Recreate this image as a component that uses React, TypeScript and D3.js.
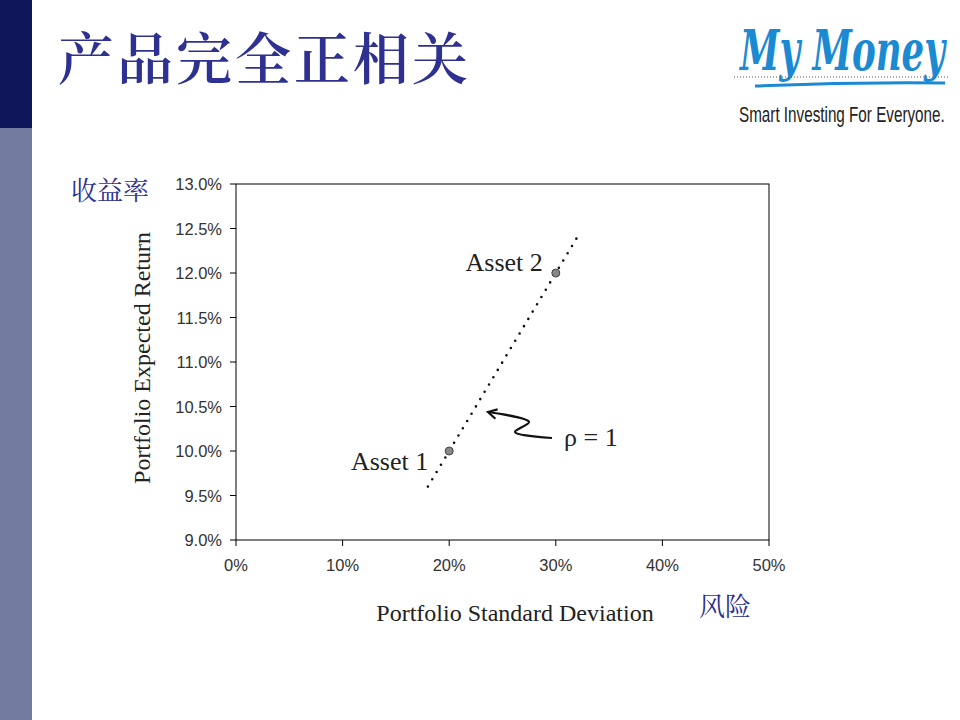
import React, { useLayoutEffect, useRef, useState } from "react";
import * as d3 from "d3";

const xTicks = [0, 10, 20, 30, 40, 50];
const yTicks = [9.0, 9.5, 10.0, 10.5, 11.0, 11.5, 12.0, 12.5, 13.0];
const lineSigma = [18, 32.2];
const lineReturn = [9.6, 12.44];
const assetNames = ["Asset 1", "Asset 2"];
const assetSigma = [20, 30];
const assetReturn = [10, 12];
const arrowSigma = [29.64, 26.17, 27.49, 23.64];
const arrowReturn = [10.146, 10.213, 10.326, 10.438];

function FitText(props: { x: number; y: number; width: number; children: string; [k: string]: any }) {
  const { x, y, width, children, ...rest } = props;
  const ref = useRef<SVGTextElement>(null);
  const [sx, setSx] = useState(1);
  useLayoutEffect(() => {
    if (ref.current) {
      const w = ref.current.getComputedTextLength();
      if (w > 0) setSx(width / w);
    }
  }, [width, children]);
  return (
    <g transform={`translate(${x},${y}) scale(${sx},1)`}>
      <text ref={ref} x={0} y={0} {...rest}>{children}</text>
    </g>
  );
}

export default function App() {
  const W = 960, H = 720;
  const x = d3.scaleLinear().domain([0, 50]).range([236, 769]);
  const y = d3.scaleLinear().domain([9, 13]).range([540, 184]);
  const lineGen = d3.line<[number, number]>().x(d => x(d[0])).y(d => y(d[1]));
  const arrowPts: [number, number][] = arrowSigma.map((s, i) => [s, arrowReturn[i]]);
  const arrowPath = d3.line<[number, number]>()
    .x(d => x(d[0])).y(d => y(d[1]))
    .curve(d3.curveCatmullRom.alpha(0.5))(arrowPts) as string;
  const tip = arrowPts[arrowPts.length - 1];
  const prev = arrowPts[arrowPts.length - 2];
  const ang = Math.atan2(y(tip[1]) - y(prev[1]), x(tip[0]) - x(prev[0]));
  const tx = x(tip[0]), ty = y(tip[1]);
  const ah = 10;
  const a1 = [tx - ah * Math.cos(ang - 0.5), ty - ah * Math.sin(ang - 0.5)];
  const a2 = [tx - ah * Math.cos(ang + 0.5), ty - ah * Math.sin(ang + 0.5)];
  const tickFont = "Liberation Sans, Arial, sans-serif";
  const serif = "Liberation Serif, Times New Roman, serif";
  const blue = "#2e3192";
  const lp: [number, number][] = lineSigma.map((s, i) => [s, lineReturn[i]]);
  return (
    <svg width={W} height={H} style={{ position: "absolute", left: 0, top: 0, background: "#fff" }}>
      <rect x={0} y={0} width={W} height={H} fill="#fff" />
      <rect x={0} y={0} width={32} height={128} fill="#10165a" />
      <rect x={0} y={128} width={32} height={H - 128} fill="#737ba0" />
      <text x={58} y={79} fontSize={56} fontWeight={600} fill={blue} fontFamily="Noto Serif CJK SC, Noto Sans CJK SC, serif" letterSpacing={3}>产品完全正相关</text>
      {/* logo */}
      <FitText x={740} y={70} width={205} fontSize={56} fontWeight="bold" fill="#1b8ad3" fontStyle="italic" fontFamily="DejaVu Serif, serif">My Money</FitText>
      <line x1={734} x2={950} y1={77} y2={77} stroke="#555" strokeDasharray="1,2" strokeWidth={1} />
      <path d="M755,86 Q850,82 945,83" stroke="#1b8ad3" strokeWidth={3} fill="none" />
      <FitText x={739} y={122} width={206} fontSize={22} fill="#222" fontFamily="Liberation Sans Narrow, Liberation Sans, sans-serif">Smart Investing For Everyone.</FitText>

      {/* plot frame */}
      <rect x={x(0)} y={y(13)} width={x(50) - x(0)} height={y(9) - y(13)} fill="none" stroke="#000" strokeWidth={1} />
      {yTicks.map(t => (
        <g key={"y" + t}>
          <line x1={x(0) - 6} x2={x(0)} y1={y(t)} y2={y(t)} stroke="#000" />
          <text x={x(0) - 14} y={y(t) + 6} textAnchor="end" fontSize={16.5} fill="#333" fontFamily={tickFont}>{t.toFixed(1)}%</text>
        </g>
      ))}
      {xTicks.map(t => (
        <g key={"x" + t}>
          <line x1={x(t)} x2={x(t)} y1={y(9)} y2={y(9) + 6} stroke="#000" />
          <text x={x(t)} y={y(9) + 31} textAnchor="middle" fontSize={16.5} fill="#333" fontFamily={tickFont}>{t}%</text>
        </g>
      ))}
      <text transform={`translate(150,358) rotate(-90)`} textAnchor="middle" fontSize={24} fill="#222" fontFamily={serif}>Portfolio Expected Return</text>
      <text x={515} y={621} textAnchor="middle" fontSize={24} fill="#222" fontFamily={serif}>Portfolio Standard Deviation</text>
      <text x={71} y={200} fontSize={26} fill={blue} fontFamily="Noto Serif CJK SC, Noto Sans CJK SC, serif">收益率</text>
      <text x={699} y={616} fontSize={26} fill={blue} fontFamily="Noto Serif CJK SC, Noto Sans CJK SC, serif">风险</text>

      {/* dotted line */}
      <path d={lineGen(lp) as string} stroke="#111" strokeWidth={2.6} strokeDasharray="0,8.5" strokeLinecap="round" fill="none" />
      {assetSigma.map((s, i) => (
        <circle key={i} cx={x(s)} cy={y(assetReturn[i])} r={4} fill="#888" stroke="#444" strokeWidth={1} />
      ))}
      <text x={x(assetSigma[0]) - 21} y={y(assetReturn[0]) + 19} textAnchor="end" fontSize={26} fill="#222" fontFamily={serif}>{assetNames[0]}</text>
      <text x={x(assetSigma[1]) - 13} y={y(assetReturn[1]) - 2} textAnchor="end" fontSize={26} fill="#222" fontFamily={serif}>{assetNames[1]}</text>
      {/* arrow */}
      <path d={arrowPath} stroke="#111" strokeWidth={2.2} fill="none" />
      <path d={`M${a1[0]},${a1[1]} L${tx},${ty} L${a2[0]},${a2[1]}`} stroke="#111" strokeWidth={2.2} fill="none" />
      <text x={564} y={446} fontSize={26} fill="#222" fontFamily={serif}>ρ = 1</text>
    </svg>
  );
}
